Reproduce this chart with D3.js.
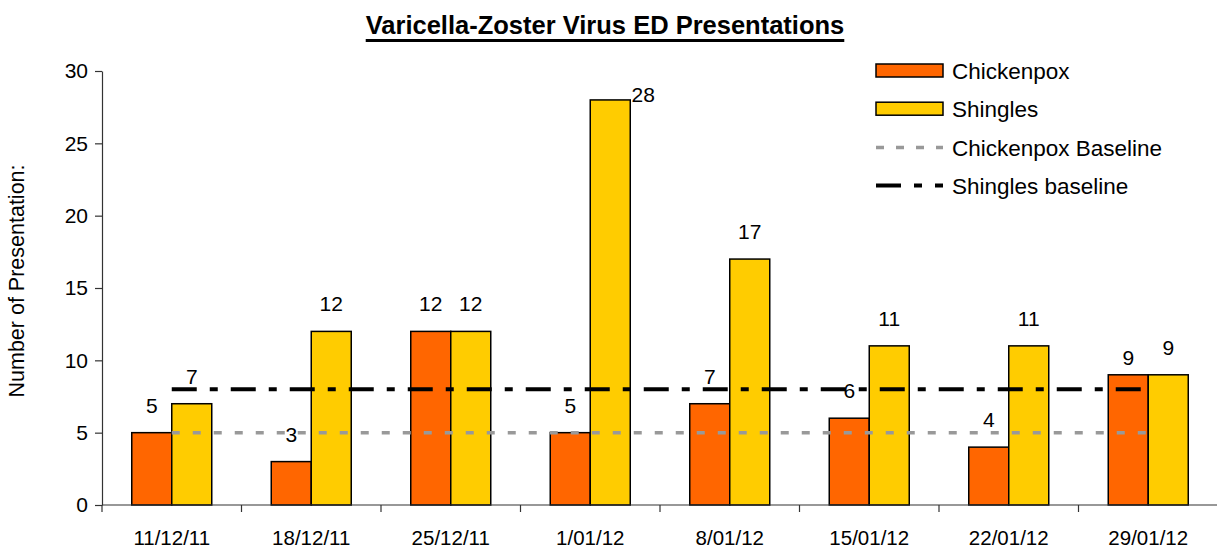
<!DOCTYPE html>
<html>
<head>
<meta charset="utf-8">
<script src="https://cdn.jsdelivr.net/npm/d3@7"></script>
<style>
  html, body { margin: 0; padding: 0; background: #fff; }
  svg { display: block; font-family: "Liberation Sans", Arial, sans-serif; }
</style>
</head>
<body>
<svg id="chart" width="1217" height="548"></svg>
<script>
const categories = ["11/12/11", "18/12/11", "25/12/11", "1/01/12", "8/01/12", "15/01/12", "22/01/12", "29/01/12"];
const chickenpox = [5, 3, 12, 5, 7, 6, 4, 9];
const shingles = [7, 12, 12, 28, 17, 11, 11, 9];
const chickenpoxBaseline = [5, 5, 5, 5, 5, 5, 5, 5];
const shinglesBaseline = [8, 8, 8, 8, 8, 8, 8, 8];
const yTicks = [0, 5, 10, 15, 20, 25, 30];
const seriesNames = ["Chickenpox", "Shingles", "Chickenpox Baseline", "Shingles baseline"];

(function () {
const colors = { chickenpox: "#FF6600", shingles: "#FFCC00", cpBase: "#999999", shBase: "#000000" };

const svg = d3.select("#chart");
const pLeft = 102, pRight = 1218, pTop = 71, pBottom = 505;

const x = d3.scaleBand().domain(categories).range([pLeft, pRight]).padding(0);
const y = d3.scaleLinear().domain([0, 30]).range([pBottom, pTop]);
const barW = 40;

// Title
const title = svg.append("text")
  .attr("x", 605).attr("y", 34)
  .attr("text-anchor", "middle")
  .attr("font-size", 25.5).attr("font-weight", "bold")
  .text("Varicella-Zoster Virus ED Presentations");
const tw = title.node().getComputedTextLength();
svg.append("rect").attr("x", 605 - tw / 2).attr("y", 39).attr("width", tw).attr("height", 3).attr("fill", "#000");

// Y axis
const yAxis = svg.append("g").attr("transform", `translate(${pLeft},0)`)
  .call(d3.axisLeft(y).tickValues(yTicks).tickSize(7).tickPadding(7).tickSizeOuter(0));
yAxis.select(".domain").attr("stroke", "#333").attr("stroke-width", 1.2);
yAxis.selectAll(".tick line").attr("stroke", "#333").attr("stroke-width", 1.2);
yAxis.selectAll(".tick text").attr("font-size", 21).attr("fill", "#000").attr("font-family", "Liberation Sans, Arial, sans-serif");

// Y label
svg.append("text")
  .attr("transform", `translate(24,281) rotate(-90)`)
  .attr("text-anchor", "middle")
  .attr("font-size", 21.5)
  .text("Number of Presentation:");

// Bars
const gBars = svg.append("g");
gBars.selectAll("rect.cp").data(chickenpox).join("rect")
  .attr("class", "cp")
  .attr("x", (d, i) => x(categories[i]) + x.bandwidth() / 2 - barW)
  .attr("y", d => y(d))
  .attr("width", barW)
  .attr("height", d => y(0) - y(d))
  .attr("fill", colors.chickenpox).attr("stroke", "#000").attr("stroke-width", 1.5);
gBars.selectAll("rect.sh").data(shingles).join("rect")
  .attr("class", "sh")
  .attr("x", (d, i) => x(categories[i]) + x.bandwidth() / 2)
  .attr("y", d => y(d))
  .attr("width", barW)
  .attr("height", d => y(0) - y(d))
  .attr("fill", colors.shingles).attr("stroke", "#000").attr("stroke-width", 1.5);

// X axis
svg.append("line").attr("x1", pLeft).attr("x2", 1217).attr("y1", pBottom).attr("y2", pBottom)
  .attr("stroke", "#333").attr("stroke-width", 1.2);
const edges = categories.map(c => x(c)).concat([x.range()[1]]);
svg.selectAll("line.xt").data(edges).join("line")
  .attr("class", "xt")
  .attr("x1", d => d).attr("x2", d => d).attr("y1", pBottom).attr("y2", pBottom + 7)
  .attr("stroke", "#333").attr("stroke-width", 1.2);
const xAxis = svg.append("g").attr("transform", `translate(0,${pBottom})`)
  .call(d3.axisBottom(x).tickSize(0).tickPadding(25));
xAxis.select(".domain").remove();
xAxis.selectAll(".tick text").attr("font-size", 20.5).attr("fill", "#000").attr("font-family", "Liberation Sans, Arial, sans-serif");

// Baselines
const lineGen = d3.line().x((d, i) => x(categories[i]) + x.bandwidth() / 2).y(d => y(d));
svg.append("path").datum(chickenpoxBaseline).attr("d", lineGen)
  .attr("fill", "none").attr("stroke", colors.cpBase).attr("stroke-width", 3.5)
  .attr("stroke-dasharray", "8,13");
svg.append("path").datum(shinglesBaseline).attr("d", lineGen)
  .attr("fill", "none").attr("stroke", colors.shBase).attr("stroke-width", 4)
  .attr("stroke-dasharray", "25,13,8,13");

// Data labels
const labelGap = 20;
function addLabels(data, offset, cls) {
  svg.selectAll("text." + cls).data(data).join("text")
    .attr("class", cls)
    .attr("font-size", 21)
    .attr("text-anchor", "middle")
    .attr("x", (d, i) => {
      const cx = x(categories[i]) + x.bandwidth() / 2 + offset;
      return (y(d) - labelGap - 16 < pTop) ? cx + barW / 2 + 13 : cx;
    })
    .attr("y", (d, i) => {
      if (y(d) - labelGap - 16 < pTop) return y(d) + 2;
      if (cls === "lcp" && i === data.length - 1) return y(d) - 10;
      return y(d) - labelGap;
    })
    .text(d => d);
}
addLabels(chickenpox, -barW / 2, "lcp");
addLabels(shingles, barW / 2, "lsh");

// Legend
const lg = svg.append("g");
const rowY = [70.5, 108.7, 147.5, 185.5];
const lx = 876, lw = 67;
lg.append("rect").attr("x", lx).attr("y", rowY[0] - 6.5).attr("width", lw).attr("height", 13)
  .attr("fill", colors.chickenpox).attr("stroke", "#000").attr("stroke-width", 1.5);
lg.append("rect").attr("x", lx).attr("y", rowY[1] - 6.5).attr("width", lw).attr("height", 13)
  .attr("fill", colors.shingles).attr("stroke", "#000").attr("stroke-width", 1.5);
lg.append("line").attr("x1", lx).attr("x2", lx + lw).attr("y1", rowY[2]).attr("y2", rowY[2])
  .attr("stroke", colors.cpBase).attr("stroke-width", 3.5).attr("stroke-dasharray", "8,12");
lg.append("line").attr("x1", lx).attr("x2", lx + lw).attr("y1", rowY[3]).attr("y2", rowY[3])
  .attr("stroke", colors.shBase).attr("stroke-width", 4).attr("stroke-dasharray", "25,13,8,13");
lg.selectAll("text").data(seriesNames).join("text")
  .attr("x", 952).attr("y", (d, i) => rowY[i] + 8)
  .attr("font-size", 22.5)
  .text(d => d);
})();
</script>
</body>
</html>
